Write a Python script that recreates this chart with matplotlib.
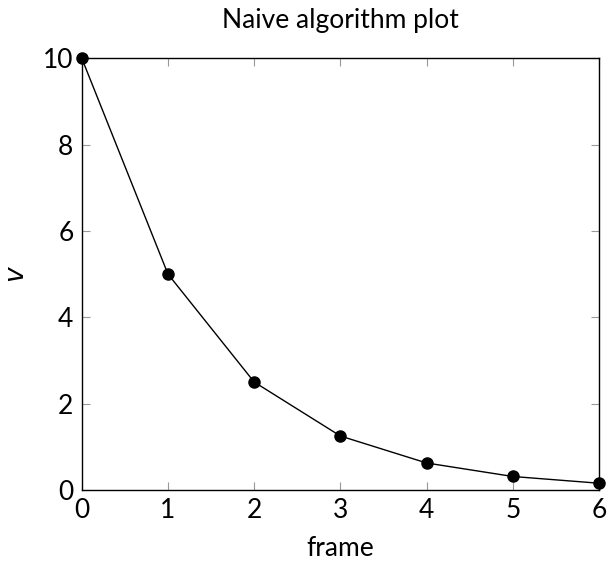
import matplotlib
matplotlib.use('Agg')
from matplotlib import pyplot as plt

plt.rcParams['font.family'] = ['Lato', 'DejaVu Sans']

frames = [0, 1, 2, 3, 4, 5, 6]
v_values = [10, 5, 2.5, 1.25, 0.625, 0.3125, 0.15625]
x_ticks = [0, 1, 2, 3, 4, 5, 6]
y_ticks = [0, 2, 4, 6, 8, 10]

fig = plt.figure(figsize=(6.1, 5.63), dpi=100)
ax = fig.add_axes([0.134, 0.1297, 0.848, 0.767])

ax.plot(frames, v_values, '-', color='black', linewidth=1,
        marker='o', markersize=8, clip_on=False, zorder=3)

ax.set_xlim(0, 6)
ax.set_ylim(0, 10)
ax.set_xticks(x_ticks)
ax.set_yticks(y_ticks)

ax.tick_params(direction='in', length=6, width=0.8, color='#999999',
               top=True, right=True, labelsize=19)
ax.tick_params(axis='x', pad=6)
ax.tick_params(axis='y', pad=6)
for spine in ax.spines.values():
    spine.set_linewidth(1)

ax.set_title('Naive algorithm plot', fontsize=19, pad=22)
ax.set_xlabel('frame', fontsize=19, labelpad=9)
ax.set_ylabel('$v$', fontsize=19, labelpad=10)

fig.savefig('out.png', dpi=100)
